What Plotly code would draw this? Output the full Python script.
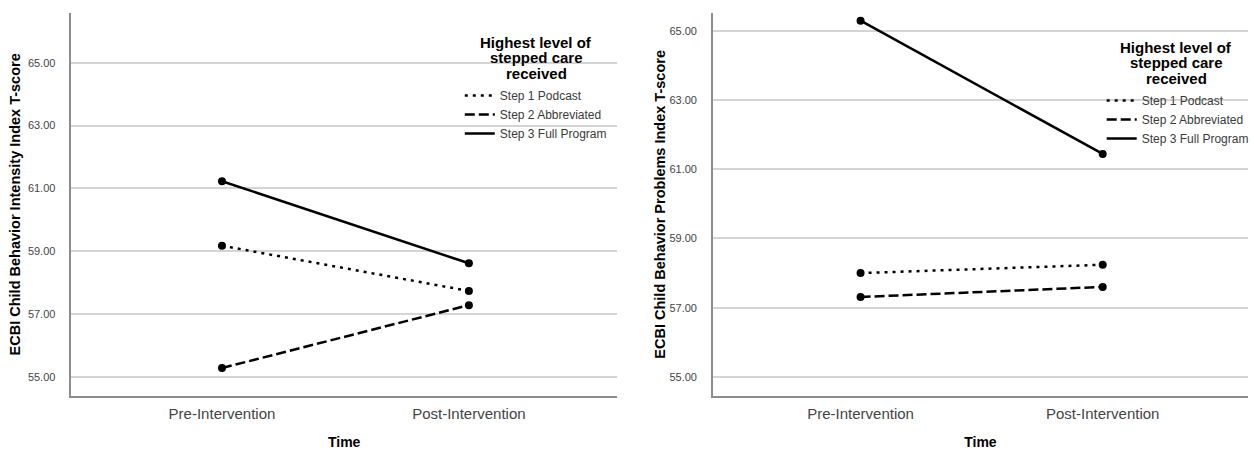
import plotly.graph_objects as go

time_labels = ["Pre-Intervention", "Post-Intervention"]
series_names = ["Step 1 Podcast", "Step 2 Abbreviated", "Step 3 Full Program"]
intensity_step1 = [59.18, 57.74]
intensity_step2 = [55.29, 57.29]
intensity_step3 = [61.23, 58.62]
problems_step1 = [58.00, 58.24]
problems_step2 = [57.31, 57.60]
problems_step3 = [65.29, 61.44]
y_ticks = [55, 57, 59, 61, 63, 65]
legend_title_lines = ["Highest level of", "stepped care", "received"]

dashes = ["3px,5px", "10px,4px", "solid"]
FONT = "Liberation Sans, Arial, sans-serif"

fig = go.Figure()
panels = [
    ([intensity_step1, intensity_step2, intensity_step3], "x", "y", "legend"),
    ([problems_step1, problems_step2, problems_step3], "x2", "y2", "legend2"),
]
for vals, xa, ya, lg in panels:
    for name, v, d in zip(series_names, vals, dashes):
        fig.add_trace(go.Scatter(
            x=time_labels, y=v, name=name, mode="lines+markers",
            line=dict(color="black", width=2.5, dash=d),
            marker=dict(color="black", size=8),
            xaxis=xa, yaxis=ya, showlegend=False,
        ))
    # legend entries (line sample only, as in the reference)
    for name, d in zip(series_names, dashes):
        fig.add_trace(go.Scatter(
            x=[None], y=[None], name=name, mode="lines",
            line=dict(color="black", width=2.5, dash=d),
            xaxis=xa, yaxis=ya, legend=lg, showlegend=True,
        ))

ydom = [1 - 396 / 450, 1 - 12.7 / 450]
axis_common_x = dict(
    type="category", range=[-0.61, 1.60], showgrid=False, showline=True,
    linecolor="#8c8c8c", linewidth=1.5, ticks="", zeroline=False,
    tickfont=dict(size=15, color="#444444", family=FONT), ticklabelstandoff=3,
    title=dict(text="<b>Time</b>", font=dict(size=14, color="black", family=FONT), standoff=19),
)
axis_common_y = dict(
    tickvals=y_ticks, tickformat=".2f", showgrid=True, gridcolor="#d4d4d4", gridwidth=1.5,
    showline=True, linecolor="#8c8c8c", linewidth=1.5, ticks="", zeroline=False,
    tickfont=dict(size=11, color="#444444", family=FONT), ticklabelstandoff=12,
)

fig.update_layout(
    width=1254, height=450,
    margin=dict(l=0, r=0, t=0, b=0),
    paper_bgcolor="white", plot_bgcolor="white",
    showlegend=True,
    xaxis=dict(domain=[71.7 / 1254, 620 / 1254], anchor="y", **axis_common_x),
    xaxis2=dict(domain=[716.3 / 1254, 1.0], anchor="y2", **axis_common_x),
    yaxis=dict(domain=ydom, anchor="x", range=[54.40, 66.59],
               title=dict(text="<b>ECBI Child Behavior Intensity Index T-score</b>",
                          font=dict(size=14.5, color="black", family=FONT), standoff=4),
               **axis_common_y),
    yaxis2=dict(domain=ydom, anchor="x2", range=[54.45, 65.52],
                title=dict(text="<b>ECBI Child Behavior Problems Index T-score</b>",
                           font=dict(size=14.5, color="black", family=FONT), standoff=0),
                **axis_common_y),
)

legend_common = dict(
    font=dict(size=12, color="#3a3a3a", family=FONT),
    bgcolor="rgba(0,0,0,0)", borderwidth=0, xanchor="left", yanchor="top",
    itemwidth=30, tracegroupgap=0,
)
fig.update_layout(
    legend=dict(x=462 / 1254, y=1 - 81 / 450, **legend_common),
    legend2=dict(x=1107 / 1254, y=1 - 86 / 450, **legend_common),
)

# legend titles, centred lines as in the reference
for cx, tops in [(539, [42, 58, 73]), (1182, [47, 62, 78])]:
    for line, cy in zip(legend_title_lines, tops):
        fig.add_annotation(
            text=f"<b>{line}</b>", xref="paper", yref="paper",
            x=cx / 1254, y=1 - cy / 450, xanchor="center", yanchor="middle",
            showarrow=False, font=dict(size=15, color="black", family=FONT),
        )

fig.write_html("out.html", config={"displayModeBar": False},
               post_script="document.body.style.margin='0';document.body.style.padding='0';")
